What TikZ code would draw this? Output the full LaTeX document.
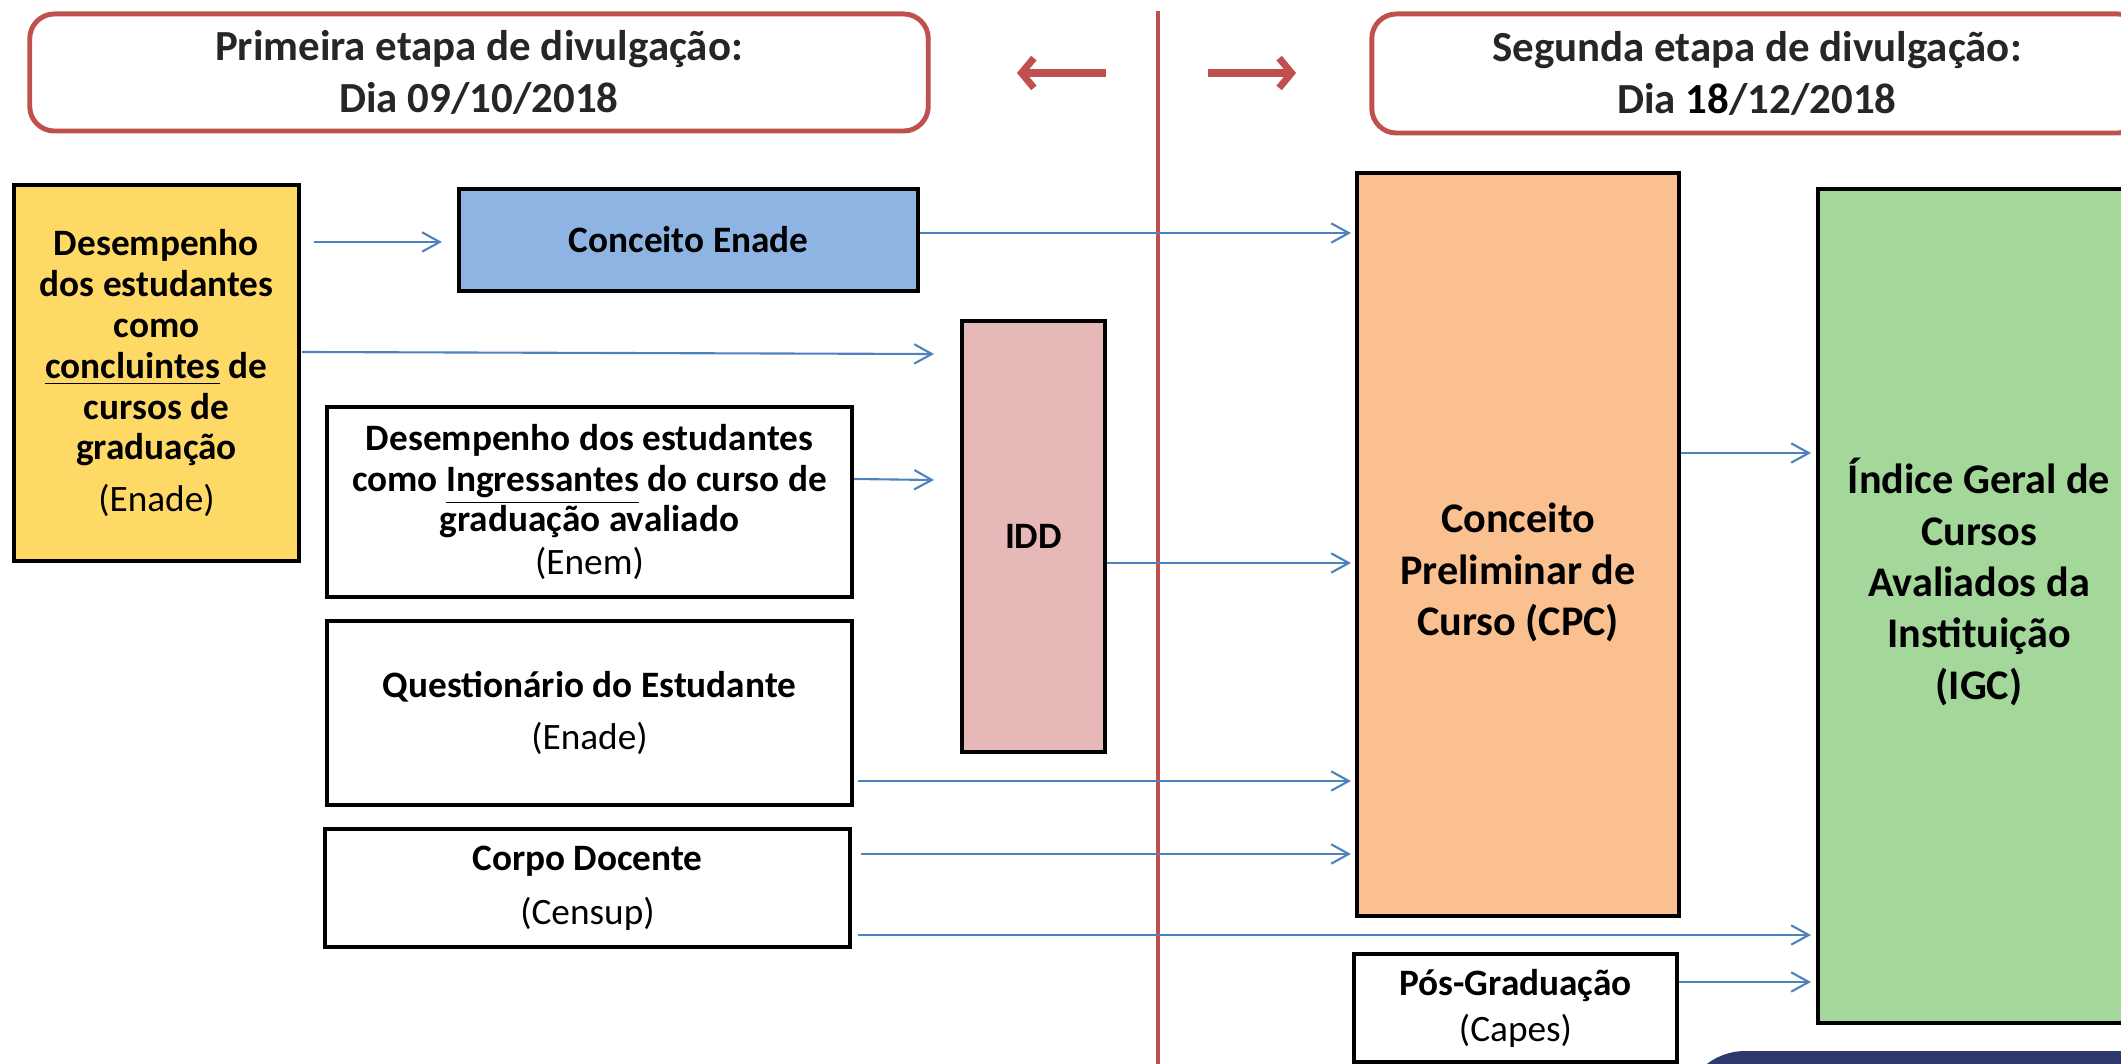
\documentclass[tikz,border=0pt]{standalone}
\usepackage{fontspec}
\setmainfont{Carlito}
\usetikzlibrary{arrows.meta,calc}
\definecolor{etapared}{HTML}{C0504D}
\definecolor{linkblue}{HTML}{4F81BD}
\definecolor{textgray}{HTML}{262626}
\definecolor{perfyellow}{HTML}{FFD966}
\definecolor{enadeblue}{HTML}{8DB4E2}
\definecolor{iddpink}{HTML}{E6B9B8}
\definecolor{cpcorange}{HTML}{FAC090}
\definecolor{igcgreen}{HTML}{A3D89A}
\definecolor{navy}{HTML}{2E386C}
\tikzset{
  box/.style={draw=black, line width=1.1pt, align=center, inner sep=0pt,
    font=\bfseries\fontsize{10.6}{11.6}\selectfont},
  etapa/.style={draw=etapared, line width=1.4pt, rounded corners=7pt, align=center,
    text=textgray, font=\bfseries\fontsize{12.2}{14.8}\selectfont},
  bigtext/.style={align=center, font=\bfseries\fontsize{12}{14.6}\selectfont},
  link/.style={draw=linkblue, line width=0.6pt, -{Straight Barb[length=5pt,width=5.5pt]}},
  divarrow/.style={draw=etapared, line width=2pt, -{Straight Barb[length=3.5pt,width=8.5pt]}}
}
\begin{document}
\begin{tikzpicture}[x=0.01cm,y=-0.01cm]
  \useasboundingbox (0,0) rectangle (2121,1064);
  % corner of the slide footer
  \fill[navy, rounded corners=18pt] (1682,1051) rectangle (2250,1200);

  % the two stages
  \node[etapa, minimum width=8.98cm, minimum height=1.17cm] (etapa1) at (479,72.5)
    {Primeira etapa de divulgação:\\Dia 09/10/2018};
  \node[etapa, minimum width=7.7cm, minimum height=1.19cm] (etapa2) at (1757,73.5)
    {Segunda etapa de divulgação:\\Dia {\color{black}18}/12/2018};
  \draw[etapared, line width=1.2pt] (1158,11) -- (1158,1070);
  \coordinate (la) at (1106,73);
  \coordinate (lb) at (1017,73);
  \coordinate (ra) at (1208,73);
  \coordinate (rb) at (1296,73);
  \draw[divarrow] (la) -- (lb);
  \draw[divarrow] (ra) -- (rb);

  % inputs
  \node[box, fill=perfyellow, minimum width=2.85cm, minimum height=3.76cm] (perf) at (156.5,373)
    {Desempenho\\dos estudantes\\como\\\underline{concluintes} de\\cursos de\\graduação\\[3pt]\textmd{(Enade)}};
  \node[box, fill=enadeblue, minimum width=4.59cm, minimum height=1.02cm] (enade) at (688.5,240)
    {Conceito Enade};
  \node[box, minimum width=5.25cm, minimum height=1.9cm] (ingr) at (589.5,502)
    {Desempenho dos estudantes\\como \underline{Ingressantes} do curso de\\graduação avaliado\\[0.6pt]\textmd{(Enem)}};
  \node[box, minimum width=5.25cm, minimum height=1.84cm] (quest) at (589.5,713)
    {Questionário do Estudante\\[3.3pt]\textmd{(Enade)}};
  \node[box, minimum width=5.25cm, minimum height=1.18cm] (corpo) at (587.5,888)
    {Corpo Docente\\[3.7pt]\textmd{(Censup)}};
  \node[box, fill=iddpink, minimum width=1.43cm, minimum height=4.31cm] (idd) at (1033.5,536.5)
    {IDD};

  % indicators
  \node[box, fill=cpcorange, minimum width=3.22cm, minimum height=7.43cm] (cpc) at (1518,544.5) {};
  \node[bigtext] (cpctext) at ($(cpc.center)+(0,28)$) {Conceito\\Preliminar de\\Curso (CPC)};
  \node[box, fill=igcgreen, minimum width=3.22cm, minimum height=8.34cm] (igc) at (1979,606) {};
  \node[bigtext] (igctext) at ($(igc.center)+(0,-24)$)
    {Índice Geral de\\Cursos\\Avaliados da\\Instituição\\(IGC)};
  \node[box, minimum width=3.23cm, minimum height=1.08cm] (pos) at (1515.5,1008)
    {Pós-Graduação\\[1.5pt]\textmd{(Capes)}};

  % links
  \draw[link] ($(perf.east |- enade.west)+(13,2)$) -- ($(enade.west)+(-15,2)$);
  \draw[link] ($(perf.east)+(1,-21)$) -- ($(idd.west |- perf.east)+(-26,-19)$);
  \draw[link] ($(ingr.east)+(0,-23)$) -- ($(idd.west |- ingr.east)+(-26,-22)$);
  \draw[link] ($(enade.east)+(0,-7)$) -- ($(cpc.west |- enade.east)+(-4,-7)$);
  \draw[link] ($(idd.east)+(0,26.5)$) -- ($(cpc.west |- idd.east)+(-4,26.5)$);
  \draw[link] ($(quest.east)+(4,68)$) -- ($(cpc.west |- quest.east)+(-4,68)$);
  \draw[link] ($(corpo.east)+(9,-34)$) -- ($(cpc.west |- corpo.east)+(-4,-34)$);
  \draw[link] ($(corpo.east)+(6,47)$) -- ($(igc.west |- corpo.east)+(-5,47)$);
  \draw[link] ($(pos.east)+(0,-26)$) -- ($(igc.west |- pos.east)+(-5,-26)$);
  \draw[link] ($(cpc.east)+(0,-91.5)$) -- ($(igc.west |- cpc.east)+(-5,-91.5)$);
\end{tikzpicture}
\end{document}
